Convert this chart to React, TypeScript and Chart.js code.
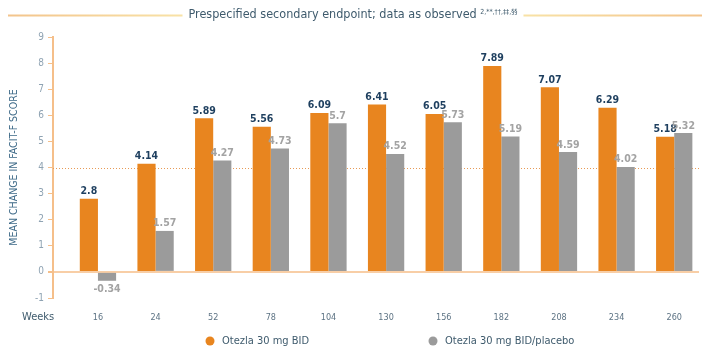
import React, { useEffect, useRef } from "react";
import { Chart, registerables } from "chart.js";

Chart.register(...registerables);

const weeks = ["16", "24", "52", "78", "104", "130", "156", "182", "208", "234", "260"];
const otezla = [2.8, 4.14, 5.89, 5.56, 6.09, 6.41, 6.05, 7.89, 7.07, 6.29, 5.18];
const placebo = [-0.34, 1.57, 4.27, 4.73, 5.7, 4.52, 5.73, 5.19, 4.59, 4.02, 5.32];
const yTicks = [-1, 0, 1, 2, 3, 4, 5, 6, 7, 8, 9];
const refLine = 4;
const seriesNames = ["Otezla 30 mg BID", "Otezla 30 mg BID/placebo"];
const titleMain = "Prespecified secondary endpoint; data as observed ";
const titleSup = "2,**,††,‡‡,§§";

const ORANGE = "#e8851f";
const GRAY = "#9b9b9b";
const FONT = "'DejaVu Sans Condensed', 'Liberation Sans Narrow', Roboto, sans-serif";

const decorPlugin = {
  id: "decor",
  beforeDatasetsDraw(chart: any) {
    const { ctx, chartArea, scales } = chart;
    const y = scales.y.getPixelForValue(refLine);
    ctx.save();
    ctx.strokeStyle = "#e89a55";
    ctx.lineWidth = 1;
    ctx.setLineDash([1, 2]);
    ctx.beginPath();
    ctx.moveTo(chartArea.left, Math.round(y) + 0.5);
    ctx.lineTo(chartArea.right, Math.round(y) + 0.5);
    ctx.stroke();
    ctx.restore();
  },
  afterDraw(chart: any) {
    const { ctx, width } = chart;
    ctx.save();
    // title
    ctx.font = `12.5px ${FONT}`;
    const wMain = ctx.measureText(titleMain).width;
    ctx.font = `7px ${FONT}`;
    const wSup = ctx.measureText(titleSup).width;
    const total = wMain + wSup;
    const cx = 353;
    const x0 = cx - total / 2;
    const ty = 15;
    ctx.fillStyle = "#3f5b6d";
    ctx.textBaseline = "middle";
    ctx.textAlign = "left";
    ctx.font = `12.5px ${FONT}`;
    ctx.fillText(titleMain, x0, ty);
    ctx.font = `7px ${FONT}`;
    ctx.fillText(titleSup, x0 + wMain, ty - 3);
    const gL = ctx.createLinearGradient(8, 0, x0 - 6, 0);
    gL.addColorStop(0, "#f3c48c");
    gL.addColorStop(1, "#f8e2a6");
    ctx.strokeStyle = gL;
    ctx.lineWidth = 2;
    ctx.beginPath();
    ctx.moveTo(8, ty + 0.5);
    ctx.lineTo(x0 - 6, ty + 0.5);
    ctx.stroke();
    const gR = ctx.createLinearGradient(x0 + total + 6, 0, width - 8, 0);
    gR.addColorStop(0, "#f8e2a6");
    gR.addColorStop(1, "#f3c48c");
    ctx.strokeStyle = gR;
    ctx.beginPath();
    ctx.moveTo(x0 + total + 6, ty + 0.5);
    ctx.lineTo(width - 8, ty + 0.5);
    ctx.stroke();

    // Weeks label
    ctx.font = `11px ${FONT}`;
    ctx.fillStyle = "#3f5b6d";
    ctx.textAlign = "left";
    ctx.textBaseline = "middle";
    ctx.fillText("Weeks", 22, 317);

    // legend
    const legendX = [210, 433];
    const legendColors = [ORANGE, GRAY];
    seriesNames.forEach((name, i) => {
      ctx.fillStyle = legendColors[i];
      ctx.beginPath();
      ctx.arc(legendX[i], 341, 4.5, 0, Math.PI * 2);
      ctx.fill();
      ctx.fillStyle = "#3f5b6d";
      ctx.font = `11px ${FONT}`;
      ctx.textAlign = "left";
      ctx.textBaseline = "middle";
      ctx.fillText(name, legendX[i] + 12, 341);
    });

    // value labels
    chart.data.datasets.forEach((ds: any, di: number) => {
      const meta = chart.getDatasetMeta(di);
      meta.data.forEach((bar: any, i: number) => {
        const v = ds.data[i].y;
        ctx.font = `bold 10.5px ${FONT}`;
        ctx.fillStyle = di === 0 ? "#1e3f5f" : "#a3a3a3";
        ctx.textAlign = "center";
        if (v >= 0) {
          ctx.textBaseline = "bottom";
          ctx.fillText(String(v), bar.x, bar.y - 2);
        } else {
          ctx.textBaseline = "top";
          ctx.fillText(String(v), bar.x, bar.y + 3);
        }
      });
    });
    ctx.restore();
  },
};

export default function App() {
  const ref = useRef<HTMLCanvasElement>(null);
  useEffect(() => {
    document.body.style.margin = "0";
    const chart = new Chart(ref.current!, {
      type: "bar",
      data: {
        datasets: [
          {
            label: seriesNames[0],
            data: otezla.map((v, i) => ({ x: i, y: v })),
            backgroundColor: ORANGE,
            borderWidth: 0,
          },
          {
            label: seriesNames[1],
            data: placebo.map((v, i) => ({ x: i, y: v })),
            backgroundColor: GRAY,
            borderWidth: 0,
          },
        ],
      },
      options: {
        animation: false,
        responsive: false,
        layout: { padding: { top: 37, right: 11, left: 0, bottom: 31 } },
        datasets: { bar: { categoryPercentage: 0.63, barPercentage: 1 } },
        plugins: {
          legend: { display: false },
          tooltip: { enabled: false },
          title: { display: false },
        },
        scales: {
          x: {
            type: "linear",
            min: -0.78,
            max: 10.43,
            offset: false,
            afterBuildTicks: (s: any) => {
              s.ticks = weeks.map((_, i) => ({ value: i }));
            },
            afterFit: (s: any) => {
              s.height = 26;
            },
            ticks: {
              autoSkip: false,
              maxRotation: 0,
              callback: (v: any) => weeks[v as number] ?? "",
              color: "#5d7384",
              font: { family: FONT, size: 9 },
              padding: 6,
            },
            grid: { display: false },
            border: { display: false },
          },
          y: {
            min: -1,
            max: 9,
            afterBuildTicks: (s: any) => {
              s.ticks = yTicks.map((v) => ({ value: v }));
            },
            afterFit: (s: any) => {
              s.width = 53;
            },
            ticks: {
              autoSkip: false,
              color: "#8fa3b3",
              font: { family: FONT, size: 10 },
              padding: 4,
            },
            grid: {
              drawOnChartArea: true,
              color: (c: any) => (c.tick && c.tick.value === 0 ? "#f8cea6" : "rgba(0,0,0,0)"),
              lineWidth: (c: any) => (c.tick && c.tick.value === 0 ? 2 : 1),
              tickColor: "#f5bf8a",
              tickLength: 5,
            },
            border: { display: true, color: "#f5bf8a", width: 2 },
            title: {
              display: true,
              text: "MEAN CHANGE IN FACIT-F SCORE",
              color: "#3e6a88",
              font: { family: FONT, size: 10.5 },
              padding: { top: 8, bottom: 0 },
            },
          },
        },
      } as any,
      plugins: [decorPlugin],
    });
    return () => chart.destroy();
  }, []);
  return <canvas ref={ref} width={710} height={355} style={{ display: "block" }} />;
}
